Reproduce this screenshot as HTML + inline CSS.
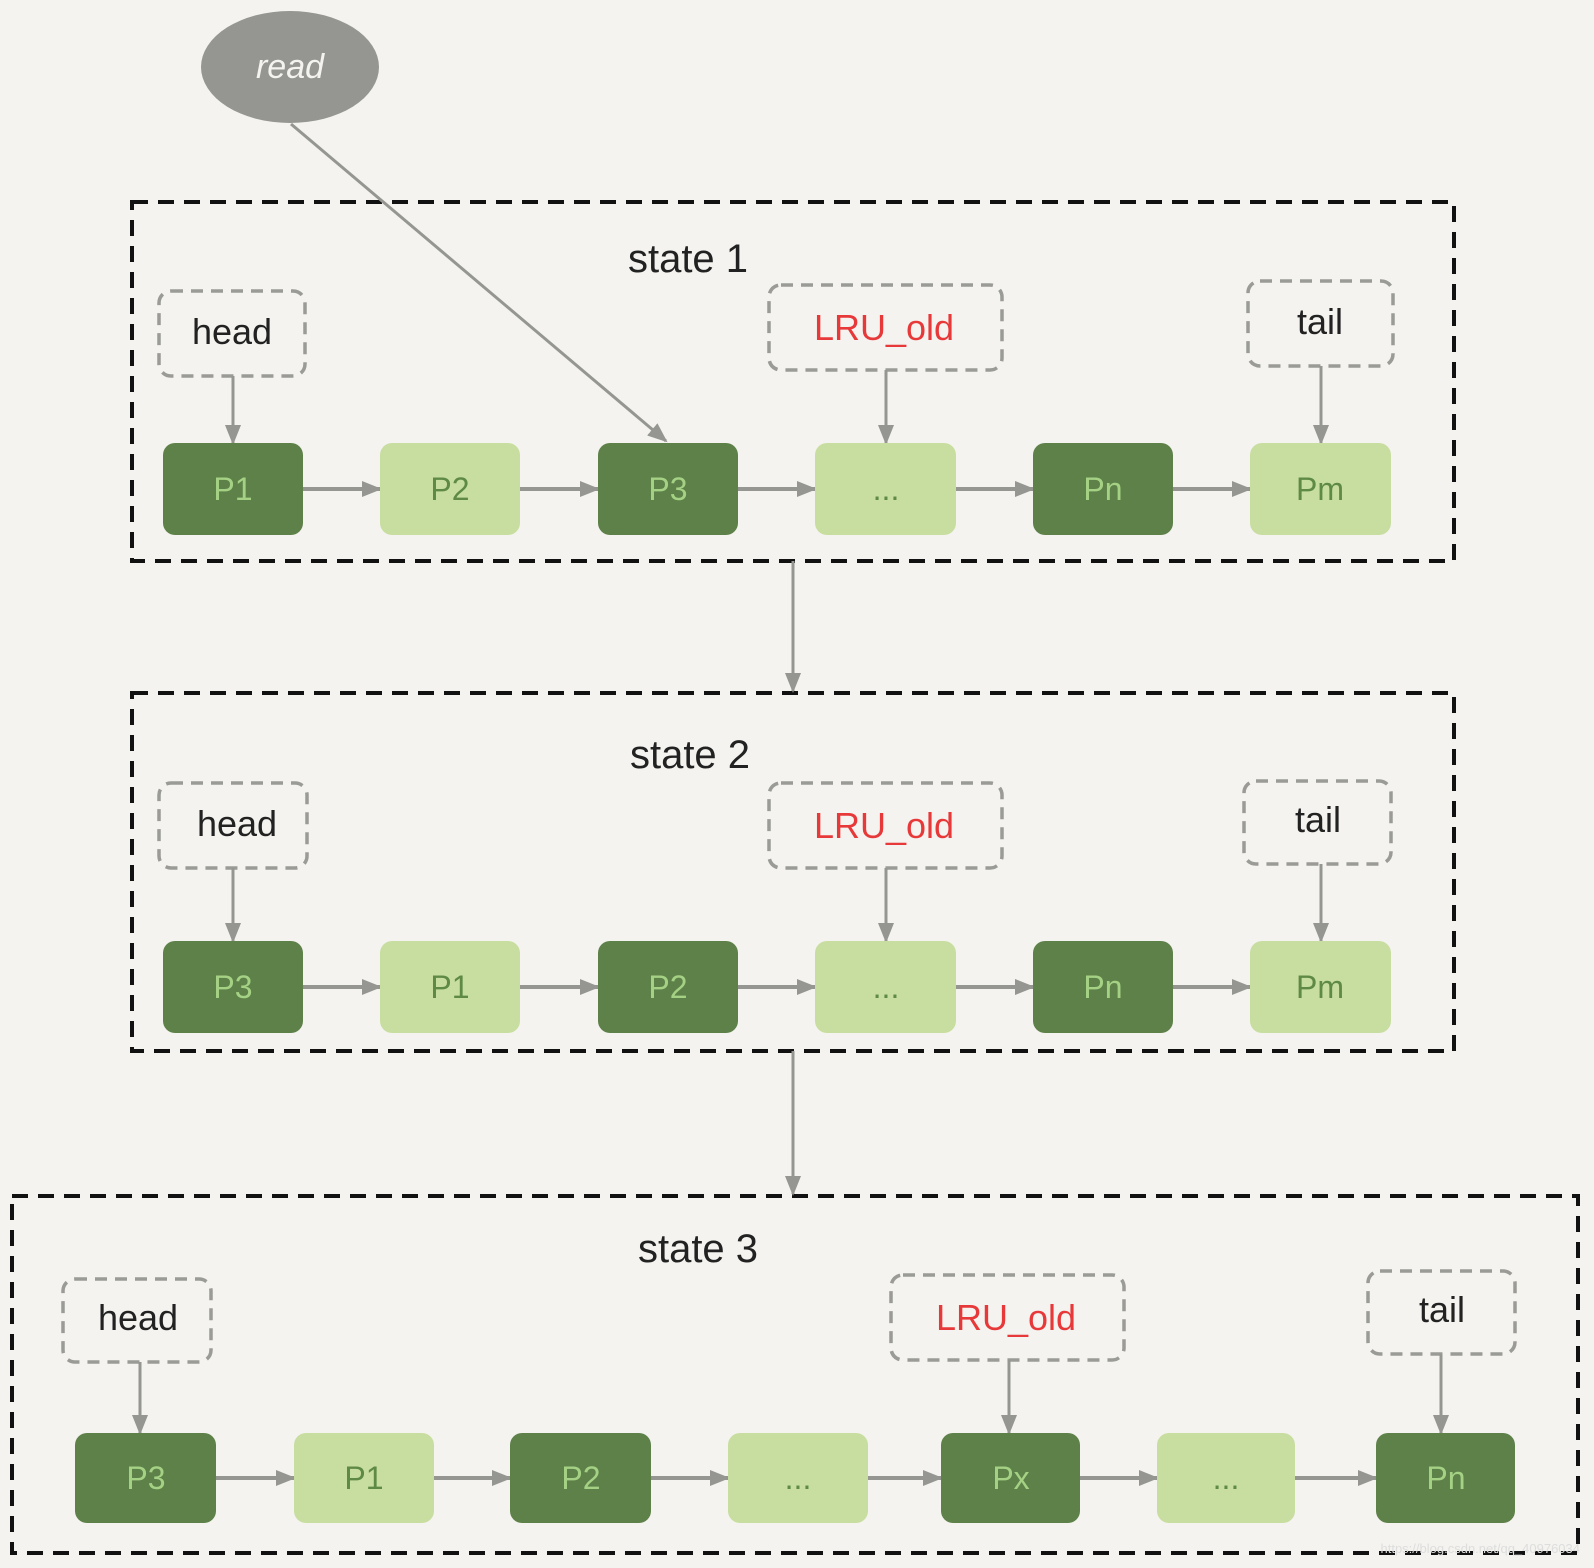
<!DOCTYPE html>
<html><head><meta charset="utf-8"><style>
html,body{margin:0;padding:0;background:#f4f3ef;}
svg{display:block}
text{font-family:"Liberation Sans",sans-serif;}
</style></head><body>
<svg width="1594" height="1568" viewBox="0 0 1594 1568" xmlns="http://www.w3.org/2000/svg">
<defs>
<marker id="ar" markerWidth="10" markerHeight="10" refX="9" refY="5" orient="auto" markerUnits="userSpaceOnUse"><path d="M0,0 L20,10 L0,20 z" transform="scale(0.5)" fill="#959691"/></marker>
<marker id="arB" markerWidth="20" markerHeight="20" refX="18" refY="10" orient="auto" markerUnits="userSpaceOnUse"><path d="M0,2 L20,10 L0,18 z" fill="#959691"/></marker>
</defs>
<rect width="1594" height="1568" fill="#f4f3ef"/>

<!-- read -->
<ellipse cx="290" cy="67" rx="89" ry="56" fill="#959691"/>
<text x="290" y="78" font-size="34" fill="#f4f3ef" text-anchor="middle" font-style="italic">read</text>

<!-- state boxes -->
<g fill="none" stroke="#111" stroke-width="4" stroke-dasharray="16,10">
<rect x="132" y="202" width="1322" height="359"/>
<rect x="132" y="693" width="1322" height="358"/>
<rect x="12" y="1196" width="1566" height="357"/>
</g>
<g font-size="40" fill="#222" text-anchor="middle">
<text x="688" y="272">state 1</text>
<text x="690" y="768">state 2</text>
<text x="698" y="1262">state 3</text>
</g>

<!-- between-state arrows -->
<g stroke="#959691" stroke-width="3" fill="none">
<line x1="793" y1="561" x2="793" y2="691" marker-end="url(#arB)"/>
<line x1="793" y1="1051" x2="793" y2="1194" marker-end="url(#arB)"/>
<line x1="291" y1="124" x2="666" y2="441" marker-end="url(#arB)"/>
</g>

<!-- label boxes -->
<g fill="none" stroke="#9a9a96" stroke-width="3.5" stroke-dasharray="12,8">
<rect x="159" y="291" width="146" height="85" rx="12"/>
<rect x="769" y="285" width="233" height="85" rx="12"/>
<rect x="1248" y="281" width="145" height="85" rx="12"/>
<rect x="159" y="783" width="148" height="85" rx="12"/>
<rect x="769" y="783" width="233" height="85" rx="12"/>
<rect x="1244" y="781" width="147" height="83" rx="12"/>
<rect x="63" y="1279" width="148" height="83" rx="12"/>
<rect x="891" y="1275" width="233" height="85" rx="12"/>
<rect x="1368" y="1271" width="147" height="83" rx="12"/>
</g>
<g font-size="36" text-anchor="middle" fill="#222">
<text x="232" y="344">head</text>
<text x="1320" y="334">tail</text>
<text x="237" y="836">head</text>
<text x="1318" y="832">tail</text>
<text x="138" y="1330">head</text>
<text x="1442" y="1322">tail</text>
</g>
<g font-size="36" text-anchor="middle" fill="#e8393a">
<text x="884" y="340">LRU_old</text>
<text x="884" y="838">LRU_old</text>
<text x="1006" y="1330">LRU_old</text>
</g>

<!-- vertical pointer arrows -->
<g stroke="#959691" stroke-width="3" fill="none" marker-end="url(#arB)">
<line x1="233" y1="376" x2="233" y2="443"/>
<line x1="886" y1="370" x2="886" y2="443"/>
<line x1="1321" y1="366" x2="1321" y2="443"/>
<line x1="233" y1="868" x2="233" y2="941"/>
<line x1="886" y1="868" x2="886" y2="941"/>
<line x1="1321" y1="864" x2="1321" y2="941"/>
<line x1="140" y1="1362" x2="140" y2="1433"/>
<line x1="1009" y1="1360" x2="1009" y2="1433"/>
<line x1="1441" y1="1354" x2="1441" y2="1433"/>
</g>

<!-- horizontal arrows -->
<g stroke="#959691" stroke-width="4" fill="none" marker-end="url(#arB)">
<line x1="303" y1="489" x2="380" y2="489"/>
<line x1="520" y1="489" x2="598" y2="489"/>
<line x1="738" y1="489" x2="815" y2="489"/>
<line x1="956" y1="489" x2="1033" y2="489"/>
<line x1="1173" y1="489" x2="1250" y2="489"/>
<line x1="303" y1="987" x2="380" y2="987"/>
<line x1="520" y1="987" x2="598" y2="987"/>
<line x1="738" y1="987" x2="815" y2="987"/>
<line x1="956" y1="987" x2="1033" y2="987"/>
<line x1="1173" y1="987" x2="1250" y2="987"/>
<line x1="216" y1="1478" x2="294" y2="1478"/>
<line x1="434" y1="1478" x2="510" y2="1478"/>
<line x1="651" y1="1478" x2="728" y2="1478"/>
<line x1="868" y1="1478" x2="941" y2="1478"/>
<line x1="1080" y1="1478" x2="1157" y2="1478"/>
<line x1="1295" y1="1478" x2="1376" y2="1478"/>
</g>

<!-- nodes -->
<g>
<rect x="163" y="443" width="140" height="92" rx="12" fill="#5e8149"/>
<rect x="380" y="443" width="140" height="92" rx="12" fill="#c8dea0"/>
<rect x="598" y="443" width="140" height="92" rx="12" fill="#5e8149"/>
<rect x="815" y="443" width="141" height="92" rx="12" fill="#c8dea0"/>
<rect x="1033" y="443" width="140" height="92" rx="12" fill="#5e8149"/>
<rect x="1250" y="443" width="141" height="92" rx="12" fill="#c8dea0"/>

<rect x="163" y="941" width="140" height="92" rx="12" fill="#5e8149"/>
<rect x="380" y="941" width="140" height="92" rx="12" fill="#c8dea0"/>
<rect x="598" y="941" width="140" height="92" rx="12" fill="#5e8149"/>
<rect x="815" y="941" width="141" height="92" rx="12" fill="#c8dea0"/>
<rect x="1033" y="941" width="140" height="92" rx="12" fill="#5e8149"/>
<rect x="1250" y="941" width="141" height="92" rx="12" fill="#c8dea0"/>

<rect x="75" y="1433" width="141" height="90" rx="12" fill="#5e8149"/>
<rect x="294" y="1433" width="140" height="90" rx="12" fill="#c8dea0"/>
<rect x="510" y="1433" width="141" height="90" rx="12" fill="#5e8149"/>
<rect x="728" y="1433" width="140" height="90" rx="12" fill="#c8dea0"/>
<rect x="941" y="1433" width="139" height="90" rx="12" fill="#5e8149"/>
<rect x="1157" y="1433" width="138" height="90" rx="12" fill="#c8dea0"/>
<rect x="1376" y="1433" width="139" height="90" rx="12" fill="#5e8149"/>
</g>
<g font-size="32" text-anchor="middle">
<text x="233" y="500" fill="#a5d185">P1</text>
<text x="450" y="500" fill="#5e8a45">P2</text>
<text x="668" y="500" fill="#a5d185">P3</text>
<text x="886" y="500" fill="#5e8a45">...</text>
<text x="1103" y="500" fill="#a5d185">Pn</text>
<text x="1320" y="500" fill="#5e8a45">Pm</text>

<text x="233" y="998" fill="#a5d185">P3</text>
<text x="450" y="998" fill="#5e8a45">P1</text>
<text x="668" y="998" fill="#a5d185">P2</text>
<text x="886" y="998" fill="#5e8a45">...</text>
<text x="1103" y="998" fill="#a5d185">Pn</text>
<text x="1320" y="998" fill="#5e8a45">Pm</text>

<text x="146" y="1489" fill="#a5d185">P3</text>
<text x="364" y="1489" fill="#5e8a45">P1</text>
<text x="581" y="1489" fill="#a5d185">P2</text>
<text x="798" y="1489" fill="#5e8a45">...</text>
<text x="1011" y="1489" fill="#a5d185">Px</text>
<text x="1226" y="1489" fill="#5e8a45">...</text>
<text x="1446" y="1489" fill="#a5d185">Pn</text>
</g>
<text x="1580" y="1553" font-size="13" fill="#ddd" text-anchor="end">https://blog.csdn.net/qq_40976034</text>
</svg>
</body></html>
